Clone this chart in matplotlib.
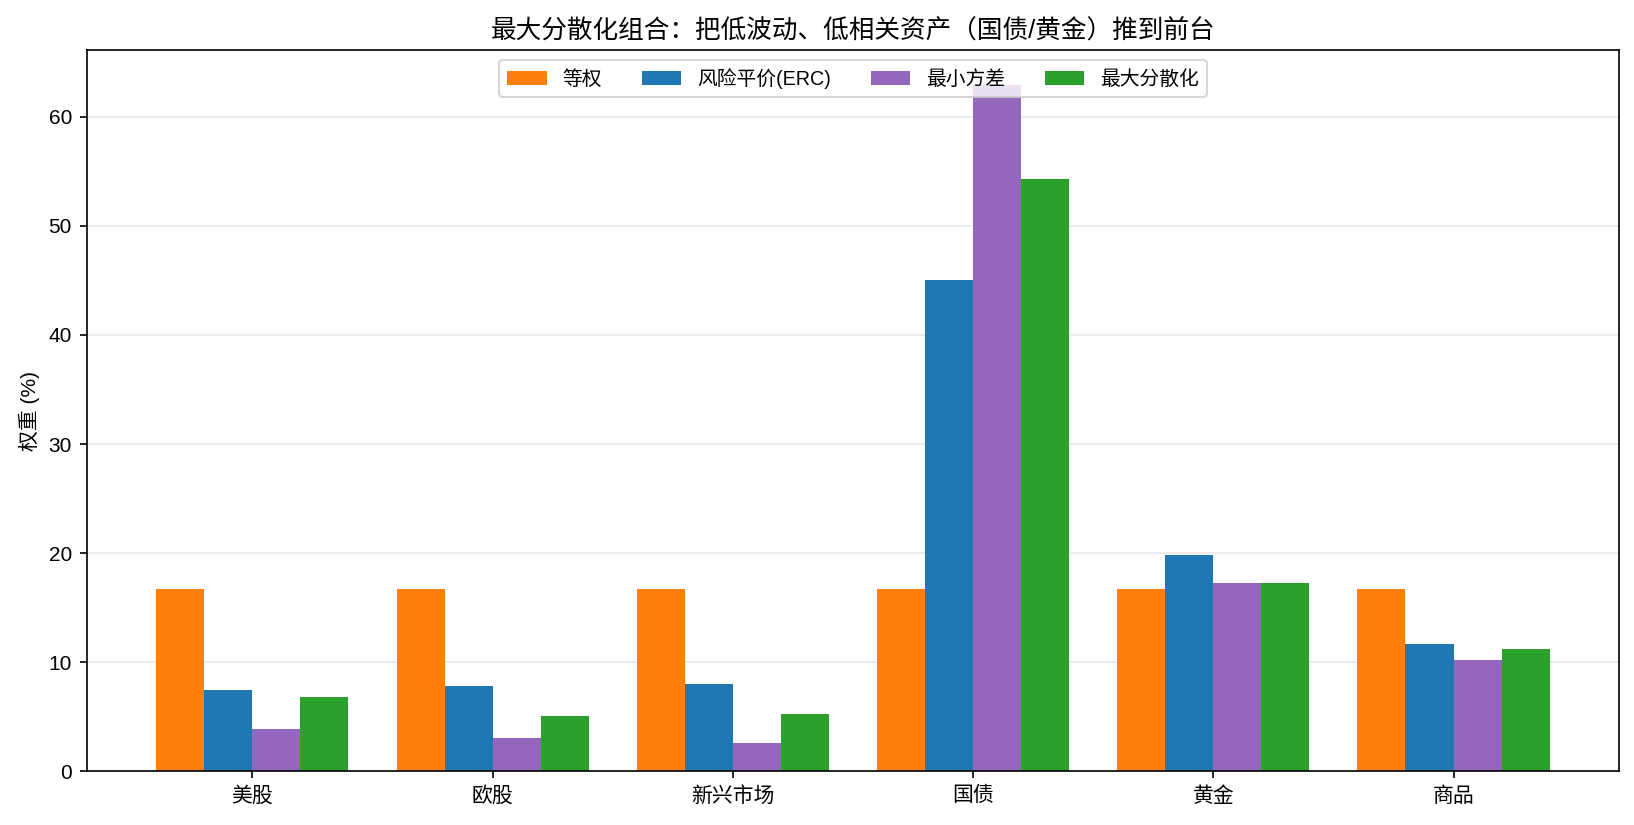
import numpy as np
import matplotlib
matplotlib.use("Agg")
import matplotlib.pyplot as plt

plt.rcParams['font.family'] = ['Liberation Sans', 'Noto Sans CJK SC', 'DejaVu Sans']
plt.rcParams['axes.unicode_minus'] = False

# asset classes and weights (%) per portfolio
assets = ["美股", "欧股", "新兴市场", "国债", "黄金", "商品"]
w_equal = [16.67, 16.67, 16.67, 16.67, 16.67, 16.67]
w_erc = [7.5, 7.8, 8.0, 45.0, 19.8, 11.65]
w_minvar = [3.86, 3.04, 2.58, 62.94, 17.25, 10.18]
w_maxdiv = [6.78, 5.05, 5.23, 54.29, 17.25, 11.19]

series = [
    ("等权", w_equal, "#ff7f0e"),
    ("风险平价(ERC)", w_erc, "#1f77b4"),
    ("最小方差", w_minvar, "#9467bd"),
    ("最大分散化", w_maxdiv, "#2ca02c"),
]

fig, ax = plt.subplots(figsize=(1634 / 150, 825 / 150), dpi=150)
fig.subplots_adjust(left=0.053, right=0.991, top=0.939, bottom=0.065)

x = np.arange(len(assets))
width = 0.2
for i, (label, vals, color) in enumerate(series):
    ax.bar(x + (i - 1.5) * width, vals, width, label=label, color=color)

ax.set_xticks(x)
ax.set_xticklabels(assets)
ax.set_ylabel("权重 (%)")
ax.set_title("最大分散化组合：把低波动、低相关资产（国债/黄金）推到前台", fontsize=12.3)
ax.grid(axis="y", alpha=0.3)
ax.set_axisbelow(True)
ax.legend(loc="upper center", ncol=4, fontsize=9.5)

fig.savefig("out.png", dpi=150)
